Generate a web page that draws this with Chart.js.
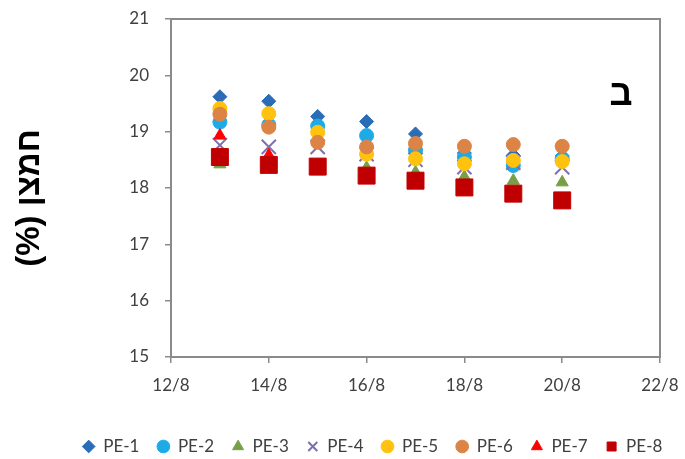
<!DOCTYPE html>
<html>
<head>
<meta charset="utf-8">
<script src="https://cdn.jsdelivr.net/npm/chart.js@4/dist/chart.umd.min.js"></script>
<style>
  html, body { margin: 0; padding: 0; background: #fff; }
</style>
</head>
<body>
<canvas id="chart" width="685" height="459"></canvas>
<script>
// sampling days (August)
const days = [13, 14, 15, 16, 17, 18, 19, 20];

// oxygen (%) per bag type
const pe1 = [19.62, 19.54, 19.27, 19.18, 18.96, 18.62, 18.58, 18.57];
const pe2 = [19.17, 19.12, 19.10, 18.93, 18.67, 18.55, 18.40, 18.52];
const pe3 = [18.42, 18.40, 18.35, 18.36, 18.28, 18.20, 18.13, 18.10];
const pe4 = [18.76, 18.73, 18.73, 18.60, 18.50, 18.37, 18.45, 18.37];
const pe5 = [19.41, 19.32, 18.99, 18.60, 18.52, 18.43, 18.49, 18.47];
const pe6 = [19.31, 19.08, 18.81, 18.73, 18.79, 18.74, 18.77, 18.74];
const pe7 = [18.93, 18.58, 18.30, 18.20, 18.10, 18.00, 17.85, 17.80];
const pe8 = [18.55, 18.41, 18.38, 18.22, 18.13, 18.01, 17.90, 17.78];

const seriesNames = ['PE-1', 'PE-2', 'PE-3', 'PE-4', 'PE-5', 'PE-6', 'PE-7', 'PE-8'];
const seriesValues = [pe1, pe2, pe3, pe4, pe5, pe6, pe7, pe8];

const xMin = 12, xMax = 22, xStep = 2;
const yMin = 15, yMax = 21, yStep = 1;
const yTitle = 'חמצן (%)';
const panelLetter = 'ב';

const markers = [
  { style: 'rectRot',  color: '#2a6db6', r: 7 },
  { style: 'circle',   color: '#1cabe6', r: 7 },
  { style: 'triangle', color: '#77a046', r: 7 },
  { style: 'crossRot', color: '#7d70b0', r: 10, bw: 2 },
  { style: 'circle',   color: '#ffc20e', r: 7 },
  { style: 'circle',   color: '#dc8446', r: 7 },
  { style: 'triangle', color: '#ff0000', r: 7 },
  { style: 'rect',     color: '#c00000', r: 12 },
];

const axisGray = '#8a8a8a';
const tickText = '#404040';
const font = 'Lato';

const datasets = seriesNames.map((name, i) => ({
  label: name,
  data: days.map((d, j) => ({ x: d, y: seriesValues[i][j] })),
  pointStyle: markers[i].style,
  pointRadius: markers[i].r,
  pointHoverRadius: markers[i].r,
  backgroundColor: markers[i].color,
  borderColor: markers[i].color,
  borderWidth: markers[i].bw || 1,
  showLine: false,
  order: seriesNames.length - i, // later series on top, like the original
}));

const frame = {
  id: 'frame',
  beforeDatasetsDraw(chart) {
    const { ctx, chartArea: a } = chart;
    ctx.save();
    ctx.strokeStyle = axisGray;
    ctx.lineWidth = 2;
    ctx.strokeRect(a.left, a.top, a.right - a.left, a.bottom - a.top);
    ctx.restore();
  },
  afterDraw(chart) {
    const ctx = chart.ctx;
    ctx.save();
    ctx.fillStyle = '#000';
    // y title, rtl so the Hebrew word sits at the top
    ctx.translate(30, 198);
    ctx.rotate(-Math.PI / 2);
    ctx.direction = 'rtl';
    ctx.textAlign = 'center';
    ctx.textBaseline = 'middle';
    ctx.font = 'bold 33px "Liberation Sans"';
    ctx.fillText(yTitle, 0, 0);
    ctx.restore();

    ctx.save();
    ctx.fillStyle = '#000';
    ctx.textAlign = 'center';
    ctx.textBaseline = 'alphabetic';
    ctx.font = 'bold 36px "Liberation Sans"';
    ctx.fillText(panelLetter, 621, 105);
    ctx.restore();
  }
};

new Chart(document.getElementById('chart'), {
  type: 'scatter',
  data: { datasets },
  plugins: [frame],
  options: {
    responsive: false,
    animation: false,
    devicePixelRatio: 1,
    layout: { padding: { left: 60, right: 0, top: 19, bottom: -6 } },
    plugins: {
      tooltip: { enabled: false },
      legend: {
        position: 'bottom',
        labels: {
          usePointStyle: true,
          boxWidth: 12,
          boxHeight: 9,
          padding: 18,
          color: tickText,
          font: { size: 17, family: font },
          sort: (a, b) => a.datasetIndex - b.datasetIndex,
        },
      },
    },
    scales: {
      x: {
        type: 'linear',
        min: xMin,
        max: xMax,
        border: { display: false },
        grid: { drawOnChartArea: false, drawTicks: true, tickLength: 6, color: axisGray, lineWidth: 1.5 },
        ticks: {
          stepSize: xStep,
          padding: 12,
          maxRotation: 0,
          color: tickText,
          font: { size: 17, family: font },
          callback: (v) => v + '/8',
        },
        afterFit: (s) => { s.height = 63; s.paddingLeft = 0; s.paddingRight = 25; },
      },
      y: {
        min: yMin,
        max: yMax,
        border: { display: false },
        grid: { drawOnChartArea: false, drawTicks: true, tickLength: 6, color: axisGray, lineWidth: 1.5 },
        ticks: {
          stepSize: yStep,
          padding: 16,
          color: tickText,
          font: { size: 17, family: font },
        },
        afterFit: (s) => { s.width = 111; s.paddingTop = 10; s.paddingBottom = 10; },
      },
    },
  },
});
</script>
</body>
</html>
